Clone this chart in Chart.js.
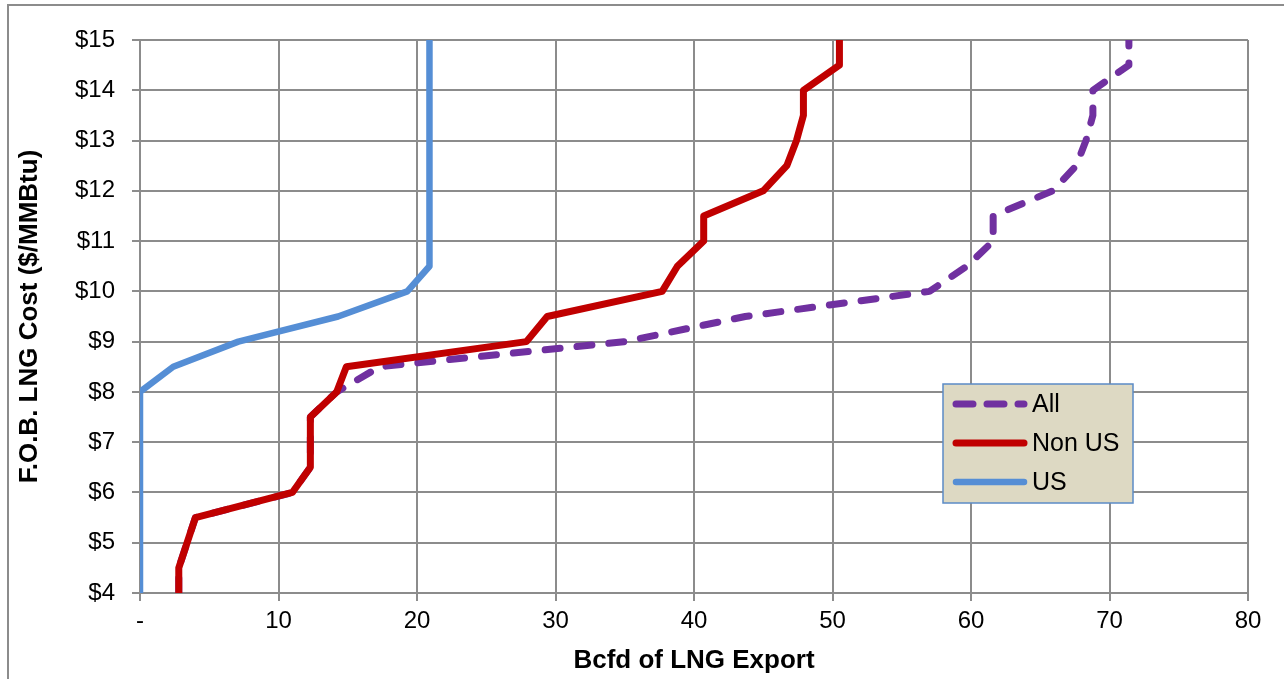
<!DOCTYPE html>
<html>
<head>
<meta charset="utf-8">
<script src="https://cdn.jsdelivr.net/npm/chart.js@4"></script>
<style>
  body { margin: 0; background: #fff; }
  #frame { position: absolute; left: 7px; top: 4px; width: 1300px; height: 700px; border: 2px solid #8c8c8c; }
  #wrap { position: absolute; left: 0; top: 0; width: 1284px; height: 679px; }
</style>
</head>
<body>
<div id="frame"></div>
<div id="wrap"><canvas id="lngChart"></canvas></div>
<script>
// F.O.B. cost steps ($/MMBtu) and cumulative export volume (Bcfd)
const allCost = [4, 4.5, 5.5, 6, 6.5, 7.5, 8, 8.5, 9, 9.5, 10, 10.5, 11, 11.5, 12, 12.5, 13, 13.5, 14, 14.5, 15];
const allVolume = [2.8, 2.8, 4.0, 11.0, 12.3, 12.3, 14.2, 17.3, 35.0, 43.7, 57.0, 59.7, 61.6, 61.6, 65.9, 67.6, 68.3, 68.8, 68.8, 71.4, 71.4];

const nonUsCost = [4, 4.5, 5.5, 6, 6.5, 7.5, 8, 8.5, 9, 9.5, 10, 10.5, 11, 11.5, 12, 12.5, 13, 13.5, 14, 14.5, 15];
const nonUsVolume = [2.8, 2.8, 4.0, 11.0, 12.3, 12.3, 14.2, 14.9, 27.9, 29.4, 37.7, 38.8, 40.7, 40.7, 45.0, 46.7, 47.4, 47.9, 47.9, 50.5, 50.5];

const usCost = [4, 8, 8.5, 9, 9.5, 10, 10.5, 15];
const usVolume = [0, 0, 2.4, 7.1, 14.3, 19.3, 20.9, 20.9];

const seriesNames = ["All", "Non US", "US"];
const xTicks = [0, 10, 20, 30, 40, 50, 60, 70, 80];
const yTicks = [4, 5, 6, 7, 8, 9, 10, 11, 12, 13, 14, 15];

function toPoints(xs, ys) {
  return xs.map((x, i) => ({ x: x, y: ys[i] }));
}

const FONT = "'Liberation Sans', Arial, sans-serif";

// legend drawn inside the plot, like the Excel original
const boxLegend = {
  id: "boxLegend",
  afterDraw(chart) {
    const ctx = chart.ctx;
    const x = 943, y = 384, w = 190, h = 119;
    ctx.save();
    ctx.fillStyle = "#ddd9c3";
    ctx.fillRect(x, y, w, h);
    ctx.strokeStyle = "#5b8bc6";
    ctx.lineWidth = 1.5;
    ctx.strokeRect(x, y, w, h);
    ctx.font = "25px " + FONT;
    ctx.textBaseline = "middle";
    chart.data.datasets.forEach((ds, i) => {
      const ly = y + 20 + i * 39;
      ctx.beginPath();
      ctx.strokeStyle = ds.borderColor;
      ctx.lineWidth = ds.borderWidth;
      ctx.lineCap = "round";
      ctx.setLineDash(ds.borderDash ? [17, 14] : []);
      ctx.moveTo(956, ly);
      ctx.lineTo(1024, ly);
      ctx.stroke();
      ctx.setLineDash([]);
      ctx.fillStyle = "#000";
      ctx.fillText(ds.label, 1032, ly + 1);
    });
    ctx.restore();
  }
};

const ctx = document.getElementById("lngChart").getContext("2d");
new Chart(ctx, {
  type: "scatter",
  data: {
    datasets: [
      {
        label: seriesNames[0],
        data: toPoints(allVolume, allCost),
        borderColor: "#7030a0",
        borderWidth: 7,
        borderDash: [15, 17],
        borderCapStyle: "round",
        order: 3
      },
      {
        label: seriesNames[1],
        data: toPoints(nonUsVolume, nonUsCost),
        borderColor: "#c00000",
        borderWidth: 7,
        order: 2
      },
      {
        label: seriesNames[2],
        data: toPoints(usVolume, usCost),
        borderColor: "#558ed5",
        borderWidth: 6.5,
        order: 1
      }
    ].map(d => Object.assign(d, {
      showLine: true,
      pointRadius: 0,
      tension: 0,
      fill: false,
      borderJoinStyle: "round"
    }))
  },
  options: {
    responsive: true,
    maintainAspectRatio: false,
    animation: false,
    layout: { padding: { left: 0, top: 40, right: 36, bottom: 0 } },
    plugins: {
      legend: { display: false },
      tooltip: { enabled: false }
    },
    scales: {
      x: {
        type: "linear",
        min: 0,
        max: 80,
        afterBuildTicks: s => { s.ticks = xTicks.map(v => ({ value: v })); },
        afterFit: s => { s.height = 86; },
        grid: { color: "#8c8c8c", lineWidth: 2, tickLength: 8 },
        border: { color: "#8c8c8c", width: 2 },
        ticks: {
          color: "#000",
          font: { family: FONT, size: 24 },
          padding: 6,
          maxRotation: 0,
          autoSkip: false,
          callback: v => v === 0 ? "-" : v
        },
        title: {
          display: true,
          text: "Bcfd of LNG Export",
          color: "#000",
          font: { family: FONT, size: 26, weight: "bold", lineHeight: 1.2 },
          padding: { top: 0, bottom: 3 }
        }
      },
      y: {
        type: "linear",
        min: 4,
        max: 15,
        afterBuildTicks: s => { s.ticks = yTicks.map(v => ({ value: v })); },
        afterFit: s => { s.width = 140; },
        grid: { color: "#8c8c8c", lineWidth: 2, tickLength: 8 },
        border: { color: "#8c8c8c", width: 2 },
        ticks: {
          color: "#000",
          font: { family: FONT, size: 24 },
          padding: 17,
          autoSkip: false,
          callback: v => "$" + v
        },
        title: {
          display: true,
          text: "F.O.B. LNG Cost ($/MMBtu)",
          color: "#000",
          font: { family: FONT, size: 26, weight: "bold", lineHeight: 1.2 },
          padding: { top: 14, bottom: 0 }
        }
      }
    }
  },
  plugins: [boxLegend]
});
</script>
</body>
</html>
